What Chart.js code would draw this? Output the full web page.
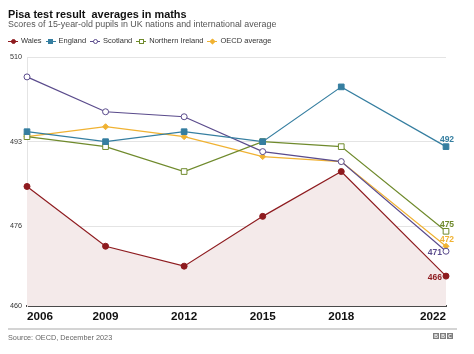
<!DOCTYPE html>
<html>
<head>
<meta charset="utf-8">
<script src="https://cdn.jsdelivr.net/npm/chart.js@4.4.1/dist/chart.umd.min.js"></script>
<style>
  body { margin: 0; background: #fff; font-family: "Liberation Sans", Arial, sans-serif; }
  #wrap { position: relative; width: 474px; height: 354px; overflow: hidden; }
  #chart { position: absolute; left: 0; top: 0; }
  .title { position: absolute; left: 8px; top: 8px; font-size: 10.9px; font-weight: bold; color: #111; white-space: pre; }
  .subtitle { position: absolute; left: 8px; top: 19px; font-size: 8.9px; color: #555; white-space: pre; }
  .legend { position: absolute; left: 8px; top: 36px; display: flex; gap: 4px; font-size: 7.5px; color: #333; line-height: 10px; }
  .legend .item { display: flex; align-items: center; }
  .legend .mk { position: relative; width: 10px; height: 10px; margin-right: 3px; }
  .legend .mk .ln { position: absolute; left: 0; right: 0; top: 4.5px; height: 1px; }
  .legend .mk .pt { position: absolute; left: 2.5px; top: 2.5px; width: 5px; height: 5px; box-sizing: border-box; }
  .sep { position: absolute; left: 8px; top: 328px; width: 449px; height: 2px; background: #d4d4d4; }
  .source { position: absolute; left: 8px; top: 333px; font-size: 7.3px; color: #666; }
  .bbc { position: absolute; left: 433px; top: 333px; display: flex; gap: 1px; }
  .bbc span { width: 6px; height: 6px; background: #7d7d7d; color: #fff; font-size: 5px; font-weight: bold; line-height: 6px; text-align: center; }
</style>
</head>
<body>
<div id="wrap">
  <canvas id="chart" width="474" height="354"></canvas>
  <div class="title">Pisa test result  averages in maths</div>
  <div class="subtitle">Scores of 15-year-old pupils in UK nations and international average</div>
  <div class="legend" id="legend"></div>
  <div class="sep"></div>
  <div class="source">Source: OECD, December 2023</div>
  <div class="bbc"><span>B</span><span>B</span><span>C</span></div>
</div>
<script>
const years = [2006, 2009, 2012, 2015, 2018, 2022];
const wales = [484, 472, 468, 478, 487, 466];
const england = [495, 493, 495, 493, 504, 492];
const scotland = [506, 499, 498, 491, 489, 471];
const northernIreland = [494, 492, 487, 493, 492, 475];
const oecdAverage = [494, 496, 494, 490, 489, 472];
const yTicks = [460, 476, 493, 510];

const FONT = '"Liberation Sans", Arial, sans-serif';

function toPoints(series) {
    return years.map((yr, i) => ({ x: yr, y: series[i] }));
}

const datasets = [
    { label: 'Wales', data: toPoints(wales), borderColor: '#8e1b1f', pointBackgroundColor: '#8e1b1f',
      pointStyle: 'circle', pointRadius: 3, fill: 'start', backgroundColor: '#f4eaea', endLabel: 'left' },
    { label: 'England', data: toPoints(england), borderColor: '#357ea0', pointBackgroundColor: '#357ea0',
      pointStyle: 'rect', pointRadius: 4, fill: false, endLabel: 'above' },
    { label: 'Scotland', data: toPoints(scotland), borderColor: '#5a4b8c', pointBackgroundColor: '#fff',
      pointStyle: 'circle', pointRadius: 3, fill: false, endLabel: 'left' },
    { label: 'Northern Ireland', data: toPoints(northernIreland), borderColor: '#6f8a2c', pointBackgroundColor: '#fff',
      pointStyle: 'rect', pointRadius: 4, fill: false, endLabel: 'above' },
    { label: 'OECD average', data: toPoints(oecdAverage), borderColor: '#f0b232', pointBackgroundColor: '#f0b232',
      pointStyle: 'rectRot', pointRadius: 3, fill: false, endLabel: 'above' }
];
datasets.forEach(ds => {
    ds.borderWidth = 1.2;
    ds.pointBorderColor = ds.borderColor;
    ds.pointBorderWidth = 1;
    ds.tension = 0;
    ds.clip = false;
});

// small coloured value at the last point of each line
const endLabels = {
    id: 'endLabels',
    afterDatasetsDraw(chart) {
        const ctx = chart.ctx;
        chart.data.datasets.forEach((ds, i) => {
            const meta = chart.getDatasetMeta(i);
            const pt = meta.data[meta.data.length - 1];
            const val = ds.data[ds.data.length - 1].y;
            ctx.save();
            ctx.font = 'bold 8.5px ' + FONT;
            ctx.fillStyle = ds.borderColor;
            ctx.textBaseline = 'middle';
            if (ds.endLabel === 'left') {
                ctx.textAlign = 'right';
                ctx.fillText(val, pt.x - 4, pt.y + 1.5);
            } else {
                ctx.textAlign = 'center';
                ctx.fillText(val, pt.x + 1, pt.y - 7);
            }
            ctx.restore();
        });
    }
};

new Chart(document.getElementById('chart').getContext('2d'), {
    type: 'line',
    data: { datasets: datasets },
    options: {
        responsive: false,
        animation: false,
        layout: { padding: { left: 0, top: 57, right: 28, bottom: 24 } },
        plugins: {
            legend: { display: false },
            tooltip: { enabled: false },
            filler: { drawTime: 'beforeDatasetsDraw' }
        },
        scales: {
            x: {
                type: 'linear',
                min: 2006,
                max: 2022,
                afterBuildTicks: scale => { scale.ticks = years.map(v => ({ value: v })); },
                afterFit: scale => { scale.height = 24; },
                grid: { display: false, drawTicks: false },
                border: { display: true, color: '#4a4a4a', width: 2 },
                ticks: {
                    align: 'inner',
                    padding: 4,
                    color: '#111',
                    font: { family: FONT, size: 11.7, weight: 'bold' },
                    callback: v => String(v),
                    maxRotation: 0
                }
            },
            y: {
                min: 460,
                max: 510,
                afterBuildTicks: scale => { scale.ticks = yTicks.map(v => ({ value: v })); },
                afterFit: scale => { scale.width = 27; },
                grid: {
                    drawTicks: false,
                    color: ctx => ctx.tick && ctx.tick.value === 460 ? 'rgba(0,0,0,0)' : '#e4e4e4',
                    lineWidth: 1
                },
                border: { display: true, color: '#e4e4e4', width: 1 },
                ticks: {
                    padding: 5,
                    color: '#333',
                    font: { family: FONT, size: 7.2 }
                }
            }
        }
    },
    plugins: [endLabels]
});

// html legend: short line with the marker on it
const legendEl = document.getElementById('legend');
datasets.forEach(ds => {
    const item = document.createElement('div');
    item.className = 'item';
    const mk = document.createElement('span');
    mk.className = 'mk';
    const ln = document.createElement('span');
    ln.className = 'ln';
    ln.style.background = ds.borderColor;
    const pt = document.createElement('span');
    pt.className = 'pt';
    pt.style.border = '1px solid ' + ds.borderColor;
    pt.style.background = ds.pointBackgroundColor;
    if (ds.pointStyle === 'circle') pt.style.borderRadius = '50%';
    if (ds.pointStyle === 'rectRot') { pt.style.transform = 'rotate(45deg) scale(0.85)'; }
    mk.appendChild(ln);
    mk.appendChild(pt);
    const txt = document.createElement('span');
    txt.textContent = ds.label;
    item.appendChild(mk);
    item.appendChild(txt);
    legendEl.appendChild(item);
});
</script>
</body>
</html>
